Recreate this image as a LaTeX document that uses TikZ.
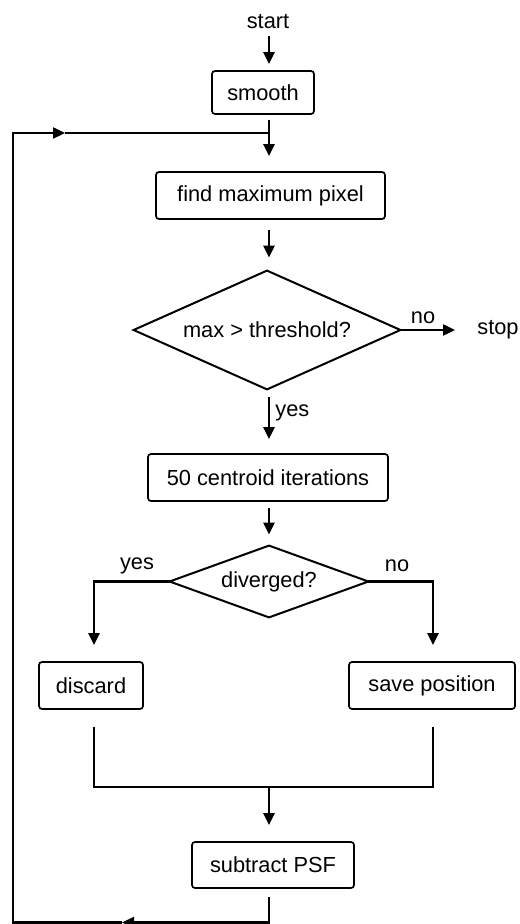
\documentclass[tikz,border=0pt]{standalone}
\usepackage{fontspec}
\setmainfont{Liberation Sans}
\usetikzlibrary{arrows.meta}
\begin{document}
\begin{tikzpicture}[x=0.5pt,y=-0.5pt,
  font=\fontsize{10.9}{13}\selectfont,
  box/.style={draw,line width=0.85pt,rounded corners=1.5pt,inner sep=0pt,align=center},
  dec/.style={inner sep=0pt},
  decline/.style={line width=1pt,line join=miter},
  conn/.style={line width=1.2pt},
  arr/.style={conn,-{Triangle[length=6pt,width=5.5pt]}},
  lbl/.style={inner sep=0pt}]
\useasboundingbox (0,0) rectangle (519,924);

% nodes
\node[lbl] (start) at (268,22) {start};
\node[box,minimum width=51pt,minimum height=21.5pt] (smooth) at (263,92.5) {smooth};
\node[box,minimum width=114.5pt,minimum height=23.5pt] (find) at (270.5,195.5) {find maximum pixel};
\node[dec,minimum width=133pt,minimum height=59pt] (d1) at (267,330) {max > threshold?};
\draw[decline] (d1.north) -- (d1.east) -- (d1.south) -- (d1.west) -- cycle;
\node[lbl,anchor=west] (stop) at (477,330) {stop};
\node[box,minimum width=120pt,minimum height=23.5pt] (cent) at (268,477.5) {50 centroid iterations};
\node[dec,minimum width=99pt,minimum height=35.5pt] (d2) at (269,581.5) {diverged?};
\draw[decline] (d2.north) -- (d2.east) -- (d2.south) -- (d2.west) -- cycle;
\node[box,minimum width=52pt,minimum height=23.5pt] (discard) at (91,685.5) {discard};
\node[box,minimum width=83pt,minimum height=23.5pt] (save) at (432,685.5) {save position};
\node[box,minimum width=81pt,minimum height=23pt] (sub) at (273,865) {subtract PSF};

% labels
\node[lbl] (lno1) at (423,318) {no};
\node[lbl,anchor=west] (lyes1) at (275,413) {yes};
\node[lbl] (lyes2) at (137,566) {yes};
\node[lbl] (lno2) at (397,566) {no};

% helper coordinates
\coordinate (sp) at (269,0);
\coordinate (xl) at (94,0);
\coordinate (xr) at (433,0);
\coordinate (j) at (269,133);
\coordinate (mrg) at (269,787);
\coordinate (ab) at (122,922.5);
\coordinate (lb) at (13,922.5);
\coordinate (lt) at (13,133);
\coordinate (at) at (65,133);

% connectors
\draw[arr,shorten <=3pt,shorten >=3pt] (start.south -| sp) -- (smooth.north -| sp);
\draw[arr,shorten <=2.5pt,shorten >=7.5pt] (smooth.south -| sp) -- (find.north -| sp);
\draw[arr,shorten <=5pt,shorten >=6.5pt] (find.south -| sp) -- (d1.north -| sp);
\draw[arr,shorten <=4pt,shorten >=7pt] (d1.south -| sp) -- (cent.north -| sp);
\draw[arr,shorten >=11pt] (d1.east) -- (stop.west);
\draw[arr,shorten <=3pt,shorten >=5.5pt] (cent.south -| sp) -- (d2.north -| sp);
\draw[arr,shorten >=8pt] (d2.west) -| (discard.north -| xl);
\draw[arr,shorten >=8pt] (d2.east) -| (save.north -| xr);
\draw[conn,shorten <=8.5pt,shorten >=8.5pt] (discard.south -| xl) |- (mrg) -| (save.south -| xr);
\draw[arr,shorten >=8pt] (mrg) -- (sub.north -| sp);
\draw[arr,shorten <=4pt] (sub.south -| sp) |- (ab);
\draw[arr] (ab) -- (lb) -- (lt) -- (at);
\draw[conn] (at) -- (j);
\end{tikzpicture}
\end{document}
